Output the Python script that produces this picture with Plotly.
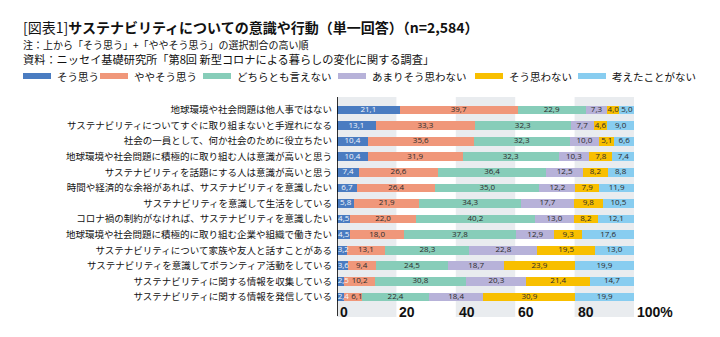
import plotly.graph_objects as go

# Survey statements, top to bottom
statements = [
    "地球環境や社会問題は他人事ではない",
    "サステナビリティについてすぐに取り組まないと手遅れになる",
    "社会の一員として、何か社会のために役立ちたい",
    "地球環境や社会問題に積極的に取り組む人は意識が高いと思う",
    "サステナビリティを話題にする人は意識が高いと思う",
    "時間や経済的な余裕があれば、サステナビリティを意識したい",
    "サステナビリティを意識して生活をしている",
    "コロナ禍の制約がなければ、サステナビリティを意識したい",
    "地球環境や社会問題に積極的に取り組む企業や組織で働きたい",
    "サステナビリティについて家族や友人と話すことがある",
    "サステナビリティを意識してボランティア活動をしている",
    "サステナビリティに関する情報を収集している",
    "サステナビリティに関する情報を発信している",
]

answers = ["そう思う", "ややそう思う", "どちらとも言えない", "あまりそう思わない", "そう思わない", "考えたことがない"]

sou_omou = [21.1, 13.1, 10.4, 10.4, 7.4, 6.7, 5.8, 4.5, 4.5, 3.2, 3.6, 2.5, 2.4]
yaya_sou_omou = [39.7, 33.3, 35.6, 31.9, 26.6, 26.4, 21.9, 22.0, 18.0, 13.1, 9.4, 10.2, 6.1]
dochira_tomo = [22.9, 32.3, 32.3, 32.3, 36.4, 35.0, 34.3, 40.2, 37.8, 28.3, 24.5, 30.8, 22.4]
amari_omowanai = [7.3, 7.7, 10.0, 10.3, 12.5, 12.2, 17.7, 13.0, 12.9, 22.8, 18.7, 20.3, 18.4]
sou_omowanai = [4.0, 4.6, 5.1, 7.8, 8.2, 7.9, 9.8, 8.2, 9.3, 19.5, 23.9, 21.4, 30.9]
kangaeta_nai = [5.0, 9.0, 6.6, 7.4, 8.8, 11.9, 10.5, 12.1, 17.6, 13.0, 19.9, 14.7, 19.9]

series = [sou_omou, yaya_sou_omou, dochira_tomo, amari_omowanai, sou_omowanai, kangaeta_nai]

tick_values = [0, 20, 40, 60, 80, 100]
tick_labels = ["0", "20", "40", "60", "80", "100%"]

colors = ["#4a7cc1", "#f0977a", "#87cdb9", "#b7b2d9", "#f8bf00", "#88cdf0"]
label_colors = ["#f4f7fc", "#2b2b2b", "#2b2b2b", "#2b2b2b", "#2b2b2b", "#2b2b2b"]

W, H = 720, 337
JP = "Noto Sans CJK JP"
MIN_LABEL_X = 2.1    # keep tiny first-segment labels clear of the baseline
MIN_LABEL_GAP = 4.6  # minimum spacing between neighbouring labels (axis units)


def py(px):
    """Convert a pixel row (from top) to paper y."""
    return 1 - px / H


def pxx(px):
    return px / W


fig = go.Figure()

# stacked bars
for name, vals, col in zip(answers, series, colors):
    fig.add_trace(go.Bar(
        y=statements,
        x=vals,
        name=name,
        orientation="h",
        marker=dict(color=col, line=dict(width=0)),
        width=0.56,
        showlegend=False,
        hoverinfo="skip",
    ))

# value labels centred on each segment, nudged apart where segments are narrow
base = [0.0] * len(statements)
prev_center = [MIN_LABEL_X - MIN_LABEL_GAP] * len(statements)
for vals, tcol in zip(series, label_colors):
    centers = [max(b + v / 2, p + MIN_LABEL_GAP) for b, v, p in zip(base, vals, prev_center)]
    fig.add_trace(go.Scatter(
        x=centers,
        y=statements,
        mode="text",
        text=[f"{v:.1f}".replace(".", ",") for v in vals],
        textposition="middle center",
        textfont=dict(size=8, color=tcol, family="Open Sans"),
        showlegend=False,
        hoverinfo="skip",
    ))
    base = [b + v for b, v in zip(base, vals)]
    prev_center = centers

shapes = []
# alternating grey column bands
for lo in (0, 40, 80):
    shapes.append(dict(type="rect", xref="x", yref="paper", x0=lo, x1=lo + 20,
                       y0=py(317), y1=py(97), fillcolor="#e9ecef",
                       line=dict(width=0), layer="below"))
# vertical baseline
shapes.append(dict(type="line", xref="x", yref="paper", x0=0, x1=0,
                   y0=py(316), y1=py(97), line=dict(color="#000000", width=1.6),
                   layer="above"))

annotations = []
# value axis labels
for v, t in zip(tick_values, tick_labels):
    annotations.append(dict(x=v, y=py(312), xref="x", yref="paper", text=f"<b>{t}</b>",
                            showarrow=False, xanchor="left", yanchor="middle",
                            xshift=1, font=dict(size=14, color="#111111",
                                                family="Liberation Sans")))

# legend built from swatches + labels
leg_swatch_x = [23, 100, 203, 338, 475, 578]
leg_w = 28
leg_y = 76
for x0, name, col in zip(leg_swatch_x, answers, colors):
    shapes.append(dict(type="rect", xref="paper", yref="paper",
                       x0=pxx(x0), x1=pxx(x0 + leg_w), y0=py(leg_y + 3), y1=py(leg_y - 3),
                       fillcolor=col, line=dict(width=0)))
    annotations.append(dict(x=pxx(x0 + leg_w + 4), y=py(leg_y), xref="paper", yref="paper",
                            text=name, showarrow=False, xanchor="left", yanchor="middle",
                            font=dict(size=10.5, color="#111111", family=JP)))

# title block
annotations.append(dict(x=pxx(21), y=py(27), xref="paper", yref="paper",
                        text="[図表1]<b>サステナビリティについての意識や行動（単一回答）（n=2,584）</b>",
                        showarrow=False, xanchor="left", yanchor="middle",
                        font=dict(size=14, color="#111111", family=JP)))
annotations.append(dict(x=pxx(21), y=py(44), xref="paper", yref="paper",
                        text="注：上から「そう思う」+「ややそう思う」の選択割合の高い順",
                        showarrow=False, xanchor="left", yanchor="middle",
                        font=dict(size=10, color="#111111", family=JP)))
annotations.append(dict(x=pxx(21), y=py(59), xref="paper", yref="paper",
                        text="資料：ニッセイ基礎研究所「第8回 新型コロナによる暮らしの変化に関する調査」",
                        showarrow=False, xanchor="left", yanchor="middle",
                        font=dict(size=11.2, color="#111111", family=JP)))

fig.update_layout(
    width=W, height=H,
    margin=dict(l=0, r=0, t=0, b=0),
    paper_bgcolor="#ffffff",
    plot_bgcolor="rgba(0,0,0,0)",
    barmode="stack",
    xaxis=dict(domain=[pxx(337), pxx(634)], range=[0, 100], visible=False, fixedrange=True),
    yaxis=dict(domain=[py(304.8), py(102.2)], type="category",
               categoryorder="array", categoryarray=statements,
               range=[len(statements) - 0.5, -0.5],
               showgrid=False, zeroline=False, showline=False, ticks="",
               ticklabelstandoff=4,
               tickfont=dict(size=9.5, color="#111111", family=JP)),
    shapes=shapes,
    annotations=annotations,
    showlegend=False,
)

fig.write_html("out.html")
